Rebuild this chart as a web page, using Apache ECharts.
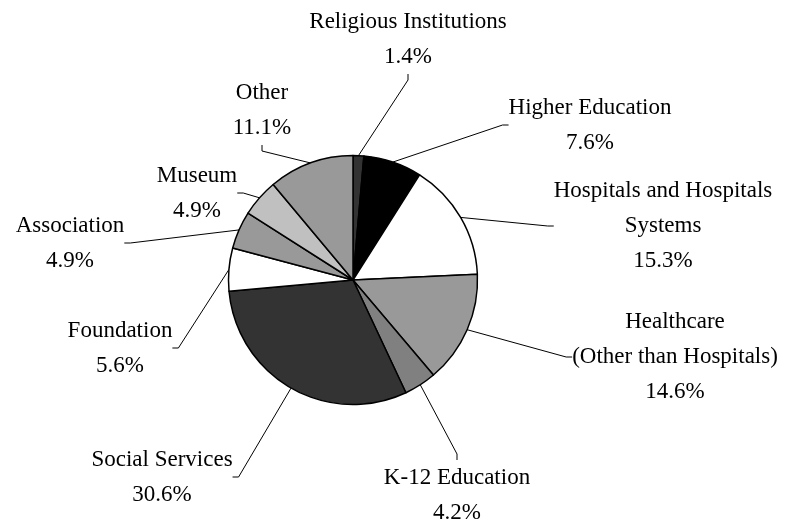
<!DOCTYPE html>
<html>
<head>
<meta charset="utf-8">
<script src="https://cdn.jsdelivr.net/npm/echarts@6/dist/echarts.min.js"></script>
<style>
  html, body { margin: 0; padding: 0; background: #fff; }
  #chart { width: 789px; height: 524px; }
</style>
</head>
<body>
<div id="chart"></div>
<script>
// Share of organizations by sector, clockwise from 12 o'clock
var categories = [
  'Religious Institutions',
  'Higher Education',
  'Hospitals and Hospitals\nSystems',
  'Healthcare\n(Other than Hospitals)',
  'K-12 Education',
  'Social Services',
  'Foundation',
  'Association',
  'Museum',
  'Other'
];
var shares = [1.4, 7.6, 15.3, 14.6, 4.2, 30.6, 5.6, 4.9, 4.9, 11.1];

// grey fills used by the original
var fills = ['#333333', '#000000', '#ffffff', '#999999', '#808080',
             '#333333', '#ffffff', '#999999', '#c0c0c0', '#999999'];

// label block centres (px)
var labelPos = [
  [408, 39], [590, 125], [663, 226], [675, 357], [457, 495],
  [162, 477], [120, 348], [70, 243], [197, 193], [262, 110]
];

var chart = echarts.init(document.getElementById('chart'), null, { renderer: 'canvas' });
chart.setOption({
  animation: false,
  backgroundColor: '#fff',
  series: [{
    type: 'pie',
    center: [353, 280],
    radius: 124.5,
    startAngle: 90,
    clockwise: true,
    avoidLabelOverlap: false,
    itemStyle: { borderColor: '#000', borderWidth: 1.5 },
    label: {
      show: true,
      color: '#000',
      fontFamily: 'Liberation Serif, Times New Roman, serif',
      fontSize: 23,
      lineHeight: 35,
      align: 'center',
      formatter: function(p) { return p.name + '\n' + p.value.toFixed(1) + '%'; }
    },
    labelLine: {
      show: true,
      length: 10,
      length2: 6,
      lineStyle: { color: '#000', width: 1 }
    },
    labelLayout: function(p) {
      var pos = labelPos[p.dataIndex];
      return { x: pos[0], y: pos[1], align: 'center', verticalAlign: 'middle' };
    },
    emphasis: { disabled: true },
    data: categories.map(function(c, i) {
      return { name: c, value: shares[i], itemStyle: { color: fills[i] } };
    })
  }]
});
</script>
</body>
</html>
